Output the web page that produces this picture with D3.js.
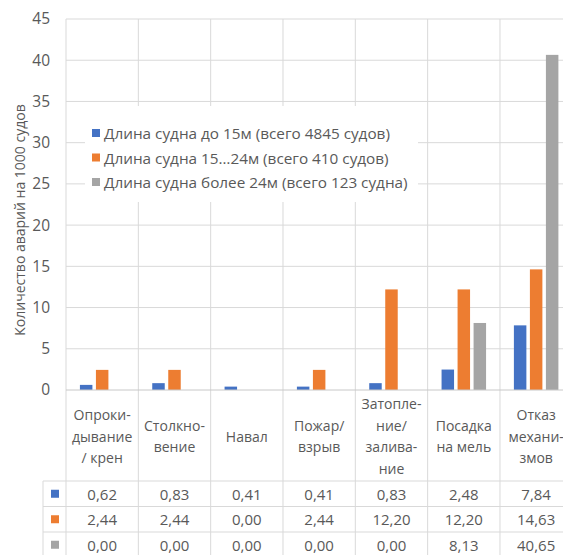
<!DOCTYPE html>
<html>
<head>
<meta charset="utf-8">
<script src="https://cdn.jsdelivr.net/npm/d3@7"></script>
<style>
  html, body { margin: 0; padding: 0; background: #fff; }
  svg { display: block; }
  text { font-family: "Open Sans", "DejaVu Sans", sans-serif; fill: #595959; }
</style>
</head>
<body>
<svg id="chart" width="563" height="555"></svg>
<script>
// Accident types (multi-line category labels)
const categories = [
  ["Опроки-", "дывание", "/ крен"],
  ["Столкно-", "вение"],
  ["Навал"],
  ["Пожар/", "взрыв"],
  ["Затопле-", "ние/", "залива-", "ние"],
  ["Посадка", "на мель"],
  ["Отказ", "механи-", "змов"]
];
const seriesNames = [
  "Длина судна до 15м (всего 4845 судов)",
  "Длина судна 15…24м (всего 410 судов)",
  "Длина судна более 24м (всего 123 судна)"
];
// Accidents per 1000 vessels
const upTo15 = [0.62, 0.83, 0.41, 0.41, 0.83, 2.48, 7.84];
const from15to24 = [2.44, 2.44, 0.00, 2.44, 12.20, 12.20, 14.63];
const over24 = [0.00, 0.00, 0.00, 0.00, 0.00, 8.13, 40.65];
const yTicks = [0, 5, 10, 15, 20, 25, 30, 35, 40, 45];
const yTitle = "Количество аварий на 1000 судов";

const series = [upTo15, from15to24, over24];
const colors = ["#4472C4", "#ED7D31", "#A5A5A5"];
const fmt = v => v.toFixed(2).replace(".", ",");

const svg = d3.select("#chart");
const W = 563, H = 555;
const plotLeft = 66, plotTop = 19, plotBottom = 390;
const colW = 72.33;
const tableLeft = 43, tableTop = 481, rowH = 25.5;
const gridColor = "#D9D9D9";

const x0 = d3.scaleBand()
  .domain(d3.range(categories.length))
  .range([plotLeft, plotLeft + colW * categories.length])
  .padding(0);
const groupW = 44.5;
const x1 = d3.scaleBand()
  .domain(d3.range(series.length))
  .range([0, groupW])
  .paddingInner(0.22)
  .paddingOuter(0);
const y = d3.scaleLinear().domain([0, 45]).range([plotBottom, plotTop]);

// horizontal gridlines
svg.append("g")
  .selectAll("line")
  .data(yTicks.filter(t => t > 0))
  .join("line")
  .attr("x1", plotLeft).attr("x2", W)
  .attr("y1", d => y(d)).attr("y2", d => y(d))
  .attr("stroke", gridColor).attr("stroke-width", 1);

// vertical column lines from plot top through the data table
const bounds = d3.range(categories.length + 1).map(i => plotLeft + i * colW);
svg.append("g")
  .selectAll("line")
  .data(bounds)
  .join("line")
  .attr("x1", d => d).attr("x2", d => d)
  .attr("y1", plotTop).attr("y2", H)
  .attr("stroke", gridColor).attr("stroke-width", 1);

// table: key column border and row lines
svg.append("line")
  .attr("x1", tableLeft).attr("x2", tableLeft)
  .attr("y1", tableTop).attr("y2", H)
  .attr("stroke", gridColor);
svg.append("g")
  .selectAll("line")
  .data(d3.range(4))
  .join("line")
  .attr("x1", tableLeft).attr("x2", W)
  .attr("y1", i => tableTop + i * rowH).attr("y2", i => tableTop + i * rowH)
  .attr("stroke", gridColor);

// legend (boxed, drawn over the grid)
const legend = svg.append("g");
legend.append("rect")
  .attr("x", 85).attr("y", 106).attr("width", 333).attr("height", 96)
  .attr("fill", "#fff");
seriesNames.forEach((name, i) => {
  const cy = 133 + i * 24.5;
  legend.append("rect")
    .attr("x", 92).attr("y", cy - 4).attr("width", 8).attr("height", 8)
    .attr("fill", colors[i]);
  legend.append("text")
    .attr("x", 104).attr("y", cy)
    .attr("dominant-baseline", "central")
    .style("font-size", "15.3px")
    .text(name);
});

// bars
svg.append("g")
  .selectAll("g")
  .data(series)
  .join("g")
  .attr("fill", (d, i) => colors[i])
  .each(function(vals, si) {
    d3.select(this).selectAll("rect")
      .data(vals)
      .join("rect")
      .attr("x", (v, ci) => x0(ci) + (x0.bandwidth() - groupW) / 2 + x1(si))
      .attr("width", x1.bandwidth())
      .attr("y", v => y(v))
      .attr("height", v => y(0) - y(v));
  });

// category axis line
svg.append("line")
  .attr("x1", plotLeft).attr("x2", W)
  .attr("y1", plotBottom).attr("y2", plotBottom)
  .attr("stroke", "#C8C8C8");

// y axis labels
const yAxis = d3.axisLeft(y).tickValues(yTicks).tickSize(0).tickPadding(0);
const gy = svg.append("g").attr("transform", "translate(50,0)").call(yAxis);
gy.select(".domain").remove();
gy.selectAll("text")
  .attr("fill", "#595959")
  .style("font-size", "15.5px")
  .style("font-family", "'Open Sans', sans-serif");

// y axis title
svg.append("text")
  .attr("transform", "translate(19,220) rotate(-90)")
  .attr("text-anchor", "middle")
  .attr("dominant-baseline", "central")
  .style("font-size", "14px")
  .text(yTitle);

// category labels
const lh = 21.5, labelMid = 436;
const catG = svg.append("g");
categories.forEach((lines, ci) => {
  const cx = x0(ci) + x0.bandwidth() / 2;
  const t = catG.append("text")
    .attr("text-anchor", "middle")
    .style("font-size", "14px");
  lines.forEach((ln, li) => {
    t.append("tspan")
      .attr("x", cx)
      .attr("y", labelMid + (li - (lines.length - 1) / 2) * lh)
      .attr("dominant-baseline", "central")
      .text(ln);
  });
});

// data table values and keys
series.forEach((vals, si) => {
  const cy = tableTop + si * rowH + rowH / 2;
  svg.append("rect")
    .attr("x", 51).attr("y", cy - 4).attr("width", 8).attr("height", 8)
    .attr("fill", colors[si]);
  svg.append("g")
    .selectAll("text")
    .data(vals)
    .join("text")
    .attr("x", (v, ci) => x0(ci) + x0.bandwidth() / 2)
    .attr("y", cy)
    .attr("text-anchor", "middle")
    .attr("dominant-baseline", "central")
    .style("font-size", "15px")
    .text(v => fmt(v));
});
</script>
</body>
</html>
